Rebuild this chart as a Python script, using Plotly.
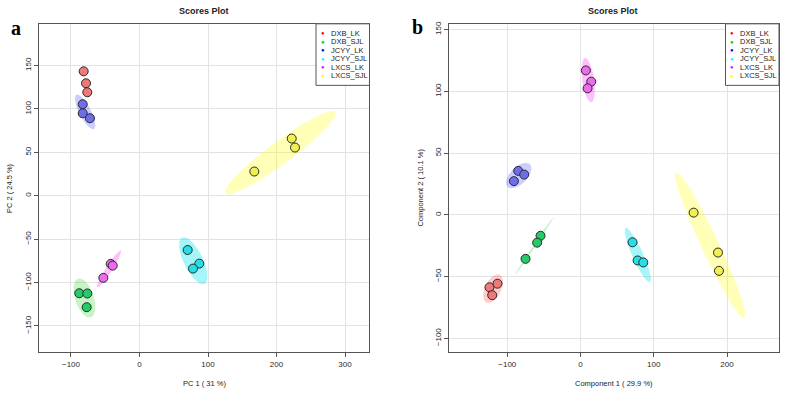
import numpy as np
import plotly.graph_objects as go

W, H = 786, 393

# ---------------- data ----------------
groups = ["DXB_LK", "DXB_SJL", "JCYY_LK", "JCYY_SJL", "LXCS_LK", "LXCS_SJL"]
sample_group = [g for g in groups for _ in range(3)]

# panel a: PCA scores
pca_pc1 = [-81.5, -78.1, -76.2, -87.9, -76.2, -77.1, -82.9, -82.9, -72.3,
           70.3, 87.3, 78.1, -42.0, -39.1, -52.8, 222.2, 227.0, 167.6]
pca_pc2 = [143.3, 129.5, 119.2, -112.3, -112.6, -128.4, 105.4, 95.0, 89.3,
           -62.5, -78.2, -83.9, -78.5, -80.5, -94.6, 65.9, 55.5, 27.9]

# panel b: PLS-DA scores
pls_c1 = [-124.3, -113.4, -120.6, -54.6, -59.2, -75.1, -85.1, -76.9, -91.0,
          71.0, 77.9, 85.7, 7.3, 14.6, 9.6, 154.4, 187.7, 189.0]
pls_c2 = [-58.6, -55.7, -65.0, -16.9, -22.5, -35.6, 35.6, 32.6, 27.3,
          -22.2, -36.9, -38.5, 116.9, 107.8, 102.4, 1.8, -30.5, -45.3]

a_xticks = [-100, 0, 100, 200, 300]
a_yticks = [-150, -100, -50, 0, 50, 100, 150]
b_xticks = [-100, 0, 100, 200]
b_yticks = [-100, -50, 0, 50, 100, 150]

# ---------------- styles ----------------
legend_col = {"DXB_LK": "#FF0000", "DXB_SJL": "#00CC00", "JCYY_LK": "#0000FF",
              "JCYY_SJL": "#00FFFF", "LXCS_LK": "#FF00FF", "LXCS_SJL": "#FFFF00"}
point_col = {"DXB_LK": "#F07878", "DXB_SJL": "#22CC66", "JCYY_LK": "#6E6EEA",
             "JCYY_SJL": "#22E0E6", "LXCS_LK": "#EC6AEC", "LXCS_SJL": "#F2F050"}
ell_col = {"DXB_LK": "rgba(255,0,0,0.2)", "DXB_SJL": "rgba(0,200,0,0.22)",
           "JCYY_LK": "rgba(0,0,255,0.2)", "JCYY_SJL": "rgba(0,225,235,0.35)",
           "LXCS_LK": "rgba(255,0,255,0.25)", "LXCS_SJL": "rgba(255,255,0,0.28)"}

FONT = "Liberation Sans, Arial, sans-serif"
T95 = np.sqrt(-2 * np.log(0.05))  # sqrt(qchisq(0.95, 2))


def ellipse(xs, ys, n=120):
    xs, ys = np.asarray(xs), np.asarray(ys)
    c = np.cov(np.vstack([xs, ys]))
    vals, vecs = np.linalg.eigh(c)
    vals = np.clip(vals, 1e-9, None)
    t = np.linspace(0, 2 * np.pi, n)
    pts = vecs @ np.vstack([np.sqrt(vals[0]) * np.cos(t), np.sqrt(vals[1]) * np.sin(t)]) * T95
    return pts[0] + xs.mean(), pts[1] + ys.mean()


fig = go.Figure()


def add_panel(xv, yv, xa, ya):
    xv, yv = np.asarray(xv), np.asarray(yv)
    gs = np.asarray(sample_group)
    for g in groups:
        m = gs == g
        ex, ey = ellipse(xv[m], yv[m])
        fig.add_trace(go.Scatter(x=ex, y=ey, mode="lines", fill="toself",
                                 fillcolor=ell_col[g], line=dict(width=0),
                                 xaxis=xa, yaxis=ya, showlegend=False, hoverinfo="skip"))
    for g in groups:
        m = gs == g
        fig.add_trace(go.Scatter(x=xv[m], y=yv[m], mode="markers",
                                 marker=dict(size=9, color=point_col[g],
                                             line=dict(color="#2a2a2a", width=1)),
                                 xaxis=xa, yaxis=ya, showlegend=False, name=g))


add_panel(pca_pc1, pca_pc2, "x", "y")
add_panel(pls_c1, pls_c2, "x2", "y2")


def px(x):
    return x / W


def py(y):
    return 1 - y / H


axis_common = dict(showline=True, mirror=True, linecolor="#555555", linewidth=1,
                   ticks="outside", ticklen=4, tickcolor="#555555",
                   showgrid=True, gridcolor="#e3e3e3", gridwidth=1, zeroline=False,
                   tickfont=dict(family=FONT, size=8, color="#2a2a2a"))

layout = dict(
    width=W, height=H, margin=dict(l=0, r=0, t=0, b=0),
    paper_bgcolor="white", plot_bgcolor="white", showlegend=False,
    xaxis=dict(domain=[px(39), px(369)], range=[-146.7, 335], tickvals=a_xticks,
               anchor="y", **axis_common),
    yaxis=dict(domain=[py(351.7), py(21)], range=[-180, 198], tickvals=a_yticks,
               tickangle=-90, anchor="x", **axis_common),
    xaxis2=dict(domain=[px(448.7), px(779)], range=[-180, 271], tickvals=b_xticks,
                anchor="y2", **axis_common),
    yaxis2=dict(domain=[py(351.7), py(21)], range=[-111, 154.6], tickvals=b_yticks,
                tickangle=-90, anchor="x2", **axis_common),
)
fig.update_layout(**layout)

ann = []
shapes = []


def text(x, y, s, size, bold=False, angle=0, family=FONT, xanchor="center", color="#222222"):
    ann.append(dict(x=px(x), y=py(y), xref="paper", yref="paper", text=s,
                    showarrow=False, xanchor=xanchor, yanchor="middle", textangle=angle,
                    font=dict(family=family, size=size, color=color)))


# titles
text(204, 8.5, "<b>Scores Plot</b>", 9)
text(613, 8.5, "<b>Scores Plot</b>", 9)
text(15.5, 25, "<b>a</b>", 20, family="Liberation Serif, serif", color="#000000")
text(417, 24.5, "<b>b</b>", 20, family="Liberation Serif, serif", color="#000000")
# axis titles
text(204.5, 383.5, "PC 1 ( 31 %)", 7.5)
text(614, 383.5, "Component 1 ( 29.9 %)", 7.5)
text(9, 186.5, "PC 2 ( 24.5 %)", 7.5, angle=-90)
text(420.5, 186.5, "Component 2 ( 10.1 %)", 7.5, angle=-90)

# legends
for (bx0, bx1) in [(316, 369.5), (725.5, 779)]:
    shapes.append(dict(type="rect", xref="paper", yref="paper",
                       x0=px(bx0), x1=px(bx1), y0=py(83), y1=py(21),
                       line=dict(color="#555555", width=1), fillcolor="white", layer="above"))
    for i, g in enumerate(groups):
        ry = 30.5 + i * 8.6
        text(bx0 + 6.5, ry, "●", 6, color=legend_col[g])
        text(bx0 + 12.5, ry, g, 7.5, xanchor="left", color="#222222")

fig.update_layout(annotations=ann, shapes=shapes)
fig.write_html("out.html")
